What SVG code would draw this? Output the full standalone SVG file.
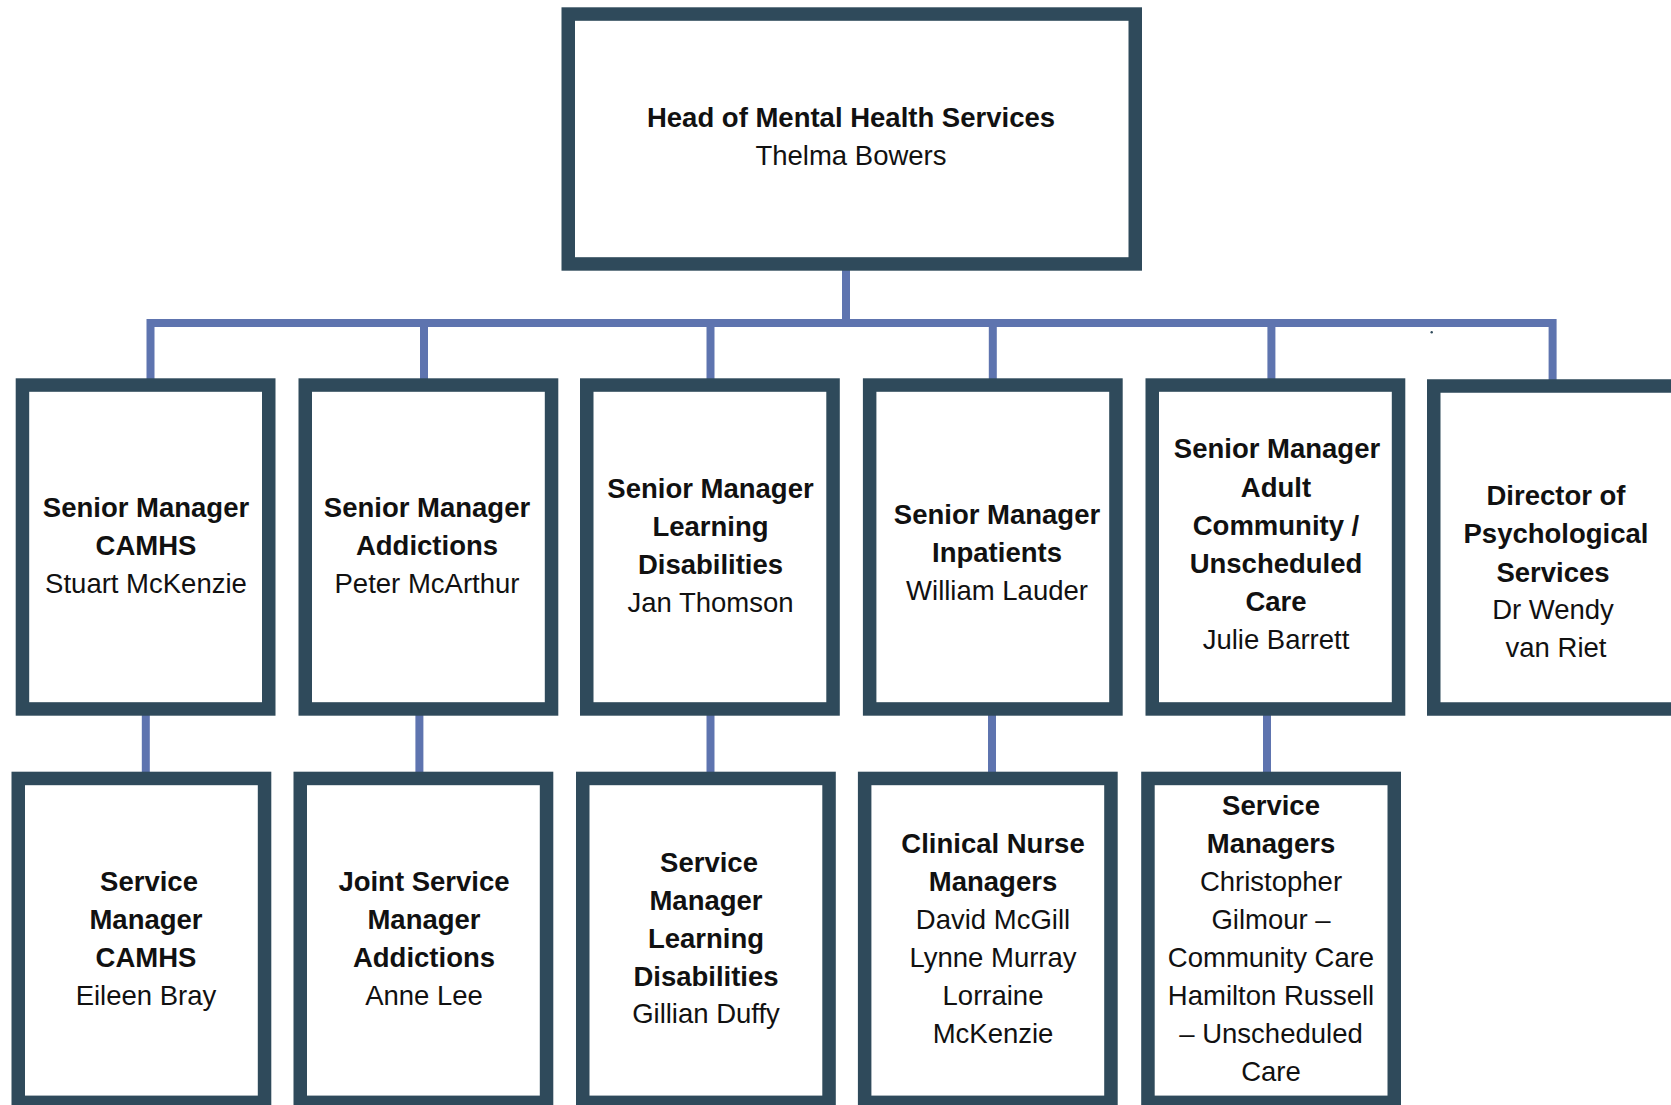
<svg xmlns="http://www.w3.org/2000/svg" width="1671" height="1105" viewBox="0 0 1671 1105">
<style>
.box{fill:#ffffff;stroke:#2F4A5B;stroke-width:13.5}
.con{fill:none;stroke:#5E74AF;stroke-width:8;stroke-linejoin:miter}
text{font-family:"Liberation Sans",Arial,sans-serif;font-size:27.5px;fill:#111111;text-anchor:middle}
.b{font-weight:bold}
</style>
<rect width="1671" height="1105" fill="#ffffff"/>
<g id="connectors">
<path class="con" d="M846,264 V323"/>
<path class="con" d="M150.5,379 V323 H1552.6 V380"/>
<path class="con" d="M424,323 V379"/>
<path class="con" d="M710.5,323 V379"/>
<path class="con" d="M992.8,323 V379"/>
<path class="con" d="M1271.4,323 V379"/>
<path class="con" d="M145.8,709 V772"/>
<path class="con" d="M419.4,709 V772"/>
<path class="con" d="M710.5,709 V772"/>
<path class="con" d="M992,709 V772"/>
<path class="con" d="M1267,709 V772"/>
<circle cx="1431.7" cy="332.3" r="1.2" fill="#2F4A5B"/>
</g>
<g id="head">
<rect class="box" x="568.25" y="14.05" width="567" height="249.9"/>
<text class="b" x="851" y="127.3">Head of Mental Health Services</text>
<text x="851" y="165">Thelma Bowers</text>
</g>
<g id="sm-camhs">
<rect class="box" x="22.45" y="385.05" width="246.3" height="323.9"/>
<text class="b" x="146" y="516.7">Senior Manager</text>
<text class="b" x="146" y="554.5">CAMHS</text>
<text x="146" y="593">Stuart McKenzie</text>
</g>
<g id="sm-addictions">
<rect class="box" x="305.25" y="385.05" width="246.3" height="323.9"/>
<text class="b" x="427" y="516.7">Senior Manager</text>
<text class="b" x="427" y="554.5">Addictions</text>
<text x="427" y="593">Peter McArthur</text>
</g>
<g id="sm-ld">
<rect class="box" x="586.75" y="385.05" width="246.3" height="323.9"/>
<text class="b" x="710.5" y="498.3">Senior Manager</text>
<text class="b" x="710.5" y="536">Learning</text>
<text class="b" x="710.5" y="574">Disabilities</text>
<text x="710.5" y="611.7">Jan Thomson</text>
</g>
<g id="sm-inpatients">
<rect class="box" x="869.65" y="385.05" width="246.3" height="323.9"/>
<text class="b" x="997" y="524">Senior Manager</text>
<text class="b" x="997" y="561.7">Inpatients</text>
<text x="997" y="600">William Lauder</text>
</g>
<g id="sm-adult">
<rect class="box" x="1152.25" y="385.05" width="246.3" height="323.9"/>
<text class="b" x="1277" y="458.3">Senior Manager</text>
<text class="b" x="1276" y="496.7">Adult</text>
<text class="b" x="1276" y="535">Community /</text>
<text class="b" x="1276" y="572.7">Unscheduled</text>
<text class="b" x="1276" y="610.7">Care</text>
<text x="1276" y="648.7">Julie Barrett</text>
</g>
<g id="director-psych">
<rect class="box" x="1433.75" y="386" width="246.3" height="323"/>
<text class="b" x="1556" y="505">Director of</text>
<text class="b" x="1556" y="543.3">Psychological</text>
<text class="b" x="1553" y="581.7">Services</text>
<text x="1553" y="619.3">Dr Wendy</text>
<text x="1556" y="657.3">van Riet</text>
</g>
<g id="svc-camhs">
<rect class="box" x="18.25" y="778.45" width="246.3" height="323.9"/>
<text class="b" x="149" y="890.7">Service</text>
<text class="b" x="146" y="928.5">Manager</text>
<text class="b" x="146" y="966.7">CAMHS</text>
<text x="146" y="1005">Eileen Bray</text>
</g>
<g id="svc-addictions">
<rect class="box" x="300.25" y="778.45" width="246.3" height="323.9"/>
<text class="b" x="424" y="890.7">Joint Service</text>
<text class="b" x="424" y="928.5">Manager</text>
<text class="b" x="424" y="966.7">Addictions</text>
<text x="424" y="1005">Anne Lee</text>
</g>
<g id="svc-ld">
<rect class="box" x="582.75" y="778.45" width="246.3" height="323.9"/>
<text class="b" x="709" y="871.7">Service</text>
<text class="b" x="706" y="910">Manager</text>
<text class="b" x="706" y="948.3">Learning</text>
<text class="b" x="706" y="986">Disabilities</text>
<text x="706" y="1023.3">Gillian Duffy</text>
</g>
<g id="cnm">
<rect class="box" x="864.65" y="778.45" width="246.3" height="323.9"/>
<text class="b" x="993" y="853.3">Clinical Nurse</text>
<text class="b" x="993" y="891">Managers</text>
<text x="993" y="929">David McGill</text>
<text x="993" y="966.7">Lynne Murray</text>
<text x="993" y="1005">Lorraine</text>
<text x="993" y="1043.3">McKenzie</text>
</g>
<g id="svc-managers">
<rect class="box" x="1147.95" y="778.45" width="246.3" height="323.9"/>
<text class="b" x="1271" y="815">Service</text>
<text class="b" x="1271" y="853.3">Managers</text>
<text x="1271" y="891">Christopher</text>
<text x="1271" y="929">Gilmour –</text>
<text x="1271" y="966.7">Community Care</text>
<text x="1271" y="1005">Hamilton Russell</text>
<text x="1271" y="1043.3">– Unscheduled</text>
<text x="1271" y="1081">Care</text>
</g>
</svg>
